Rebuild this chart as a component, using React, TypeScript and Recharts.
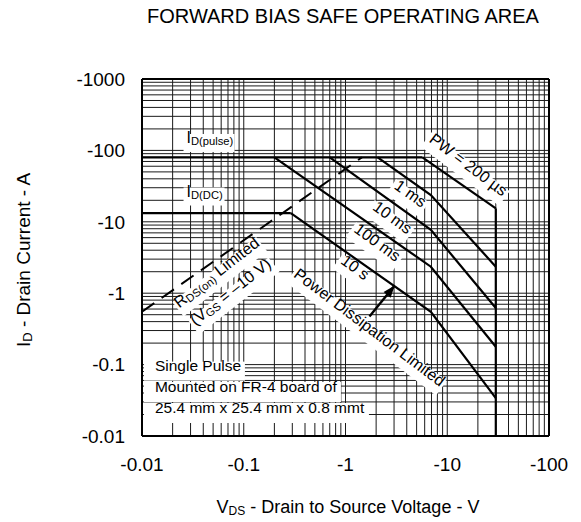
import React from 'react';
import { ComposedChart, Line, XAxis, YAxis, CartesianGrid, ReferenceLine, ReferenceDot } from 'recharts';

// ---------- data ----------
const X_DECADES = [0.01, 0.1, 1, 10];
const Y_DECADES = [0.01, 0.1, 1, 10, 100];
const MANTISSAS = [1, 2, 3, 4, 5, 6, 7, 8, 9];
const X_MAX = 100;
const Y_MAX = 1000;
const X_TICK_LABELS = ['-0.01', '-0.1', '-1', '-10', '-100'];
const Y_TICK_LABELS = ['-0.01', '-0.1', '-1', '-10', '-100', '-1000'];

// |VDS| (V) vs |ID| (A)
const idPulse = [{ v: 0.01, i: 80 }, { v: 5.7, i: 80 }];
const pw200us = [{ v: 5.7, i: 80 }, { v: 30, i: 15.4 }];
const pw1ms = [{ v: 2.07, i: 80 }, { v: 6.9, i: 23.7 }, { v: 30, i: 2.35 }];
const pw10ms = [{ v: 0.7, i: 80 }, { v: 6.9, i: 7.7 }, { v: 30, i: 0.62 }];
const pw100ms = [{ v: 0.2, i: 80 }, { v: 6.9, i: 2.35 }, { v: 30, i: 0.178 }];
const idDC = [{ v: 0.01, i: 13.2 }, { v: 0.29, i: 13.2 }];
const dc10s = [{ v: 0.29, i: 13.2 }, { v: 6.9, i: 0.55 }, { v: 30, i: 0.034 }];
const vdsLimit = [{ v: 30, i: 15.4 }, { v: 30, i: 0.01 }];
const rdsLimit = [{ v: 0.01, i: 0.55 }, { v: 1.45, i: 80 }];
const arrowLine = [{ v: 1.72, i: 0.47 }, { v: 3.0, i: 1.25 }];
const arrowHead = { v: 3.0, i: 1.25 };

// ---------- grid ticks ----------
const r6 = (n: number) => Number(n.toPrecision(6));
const X_GRID = [...X_DECADES.flatMap((d) => MANTISSAS.map((m) => r6(m * d))), X_MAX];
const Y_GRID = [...Y_DECADES.flatMap((d) => MANTISSAS.map((m) => r6(m * d))), Y_MAX];
const X_MAJOR = [...X_DECADES, X_MAX];
const Y_MAJOR = [...Y_DECADES, Y_MAX];

const FONT = '"Liberation Sans", Arial, Helvetica, sans-serif';
const W = 565;
const H = 514;
const PAD = 8;

const fmtX = (val: number) => {
  const k = X_MAJOR.findIndex((d) => Math.abs(d - val) < d * 1e-6);
  return k >= 0 ? X_TICK_LABELS[k] : '';
};
const fmtY = (val: number) => {
  const k = Y_MAJOR.findIndex((d) => Math.abs(d - val) < d * 1e-6);
  return k >= 0 ? Y_TICK_LABELS[k] : '';
};

type Part = { t: string; sub?: boolean };
type Anno = {
  v: number;
  i: number;
  parts: Part[];
  angle: number;
  anchor: 'start' | 'middle';
  w: number;
  h: number;
  fs: number;
  bx?: number;
};

const ANNOTATIONS: Anno[] = [
  { v: 0.0274, i: 127, parts: [{ t: 'I' }, { t: 'D(pulse)', sub: true }], angle: 0, anchor: 'start', w: 51, h: 18, fs: 16 },
  { v: 0.0274, i: 22.6, parts: [{ t: 'I' }, { t: 'D(DC)', sub: true }], angle: 0, anchor: 'start', w: 41, h: 18, fs: 16 },
  { v: 15.0, i: 54.8, parts: [{ t: 'PW = 200 µs' }], angle: 37, anchor: 'middle', w: 98, h: 18, fs: 16 },
  { v: 4.06, i: 21.5, parts: [{ t: '1 ms' }], angle: 35, anchor: 'middle', w: 40, h: 18, fs: 16 },
  { v: 2.7, i: 10.0, parts: [{ t: '10 ms' }], angle: 36, anchor: 'middle', w: 49, h: 18, fs: 16 },
  { v: 1.92, i: 4.48, parts: [{ t: '100 ms' }], angle: 36, anchor: 'middle', w: 58, h: 18, fs: 16 },
  { v: 1.16, i: 2.0, parts: [{ t: '10 s' }], angle: 36, anchor: 'middle', w: 36, h: 18, fs: 16 },
  { v: 1.6, i: 0.289, parts: [{ t: 'Power Dissipation Limited' }], angle: 37, anchor: 'middle', w: 188, h: 18, fs: 16 },
  { v: 0.0582, i: 1.7, parts: [{ t: 'R' }, { t: 'DS(on)', sub: true }, { t: ' Limited' }], angle: -38, anchor: 'middle', w: 106, h: 18, fs: 16 },
  { v: 0.0798, i: 0.914, parts: [{ t: '(V' }, { t: 'GS', sub: true }, { t: ' = –10 V)' }], angle: -38, anchor: 'middle', w: 102, h: 18, fs: 16 },
  { v: 0.0134, i: 0.081, parts: [{ t: 'Single Pulse' }], angle: 0, anchor: 'start', w: 101, h: 19, fs: 15.5, bx: -11 },
  { v: 0.0134, i: 0.0413, parts: [{ t: 'Mounted on FR-4 board of' }], angle: 0, anchor: 'start', w: 197, h: 20, fs: 15.5, bx: -11 },
  { v: 0.0134, i: 0.021, parts: [{ t: '25.4 mm x 25.4 mm x 0.8 mmt' }], angle: 0, anchor: 'start', w: 225, h: 20, fs: 15.5, bx: -11 },
];

function renderParts(parts: Part[], fs: number) {
  const out: React.ReactNode[] = [];
  let lowered = false;
  parts.forEach((p, k) => {
    if (p.sub) {
      out.push(
        <tspan key={k} fontSize={fs * 0.7} dy={lowered ? 0 : 2}>
          {p.t}
        </tspan>
      );
      lowered = true;
    } else {
      out.push(
        <tspan key={k} fontSize={fs} dy={lowered ? -2 : 0}>
          {p.t}
        </tspan>
      );
      lowered = false;
    }
  });
  return out;
}

function AnnoShape(props: any) {
  const { cx, cy, a } = props as { cx: number; cy: number; a: Anno };
  if (cx == null || cy == null) return null;
  const x0 = a.anchor === 'start' ? (a.bx ?? -3) : -a.w / 2;
  return (
    <g transform={`translate(${cx},${cy}) rotate(${a.angle})`}>
      <rect x={x0} y={-a.h / 2} width={a.w} height={a.h} fill="#fff" />
      <text x={0} y={0} dy={a.fs * 0.36} textAnchor={a.anchor} fontFamily={FONT} fontSize={a.fs} fill="#000">
        {renderParts(a.parts, a.fs)}
      </text>
    </g>
  );
}

function ArrowHeadShape(props: any) {
  const { cx, cy } = props;
  if (cx == null || cy == null) return null;
  return (
    <g transform={`translate(${cx},${cy}) rotate(-51)`}>
      <polygon points="1,0 -11,-4.5 -11,4.5" fill="#000" />
    </g>
  );
}

const curveStyle = { stroke: '#000', strokeWidth: 2.2, dot: false as const, isAnimationActive: false, activeDot: false as const };

export default function App() {
  return (
    <div style={{ position: 'relative', width: W, height: H }}>
      <ComposedChart width={W} height={H} margin={{ top: 71, right: 24, bottom: 26, left: 0 }}>
        <CartesianGrid stroke="#1a1a1a" strokeWidth={1} />
        <XAxis
          type="number"
          dataKey="v"
          scale="log"
          domain={[0.01, X_MAX]}
          allowDataOverflow
          ticks={X_GRID}
          interval={0}
          tickFormatter={fmtX}
          tickLine={false}
          tickSize={0}
          tickMargin={22}
          axisLine={{ stroke: '#000', strokeWidth: 2 }}
          tick={{ fill: '#000', fontSize: 19, fontFamily: FONT }}
          height={60}
        />
        <YAxis
          type="number"
          dataKey="i"
          scale="log"
          domain={[0.01, Y_MAX]}
          allowDataOverflow
          ticks={Y_GRID}
          interval={0}
          tickFormatter={fmtY}
          tickLine={false}
          tickSize={0}
          tickMargin={17}
          axisLine={{ stroke: '#000', strokeWidth: 2 }}
          tick={{ fill: '#000', fontSize: 19, fontFamily: FONT }}
          width={134}
        />
        <ReferenceLine y={Y_MAX} stroke="#000" strokeWidth={2} />
        <ReferenceLine x={X_MAX} stroke="#000" strokeWidth={2} />

        {ANNOTATIONS.map((a, k) => (
          <ReferenceDot key={k} x={a.v} y={a.i} r={1} shape={(p: any) => <AnnoShape {...p} a={a} />} />
        ))}

        <Line data={idPulse} dataKey="i" {...curveStyle} />
        <Line data={pw200us} dataKey="i" {...curveStyle} />
        <Line data={pw1ms} dataKey="i" {...curveStyle} />
        <Line data={pw10ms} dataKey="i" {...curveStyle} />
        <Line data={pw100ms} dataKey="i" {...curveStyle} />
        <Line data={idDC} dataKey="i" {...curveStyle} />
        <Line data={dc10s} dataKey="i" {...curveStyle} />
        <Line data={vdsLimit} dataKey="i" {...curveStyle} />
        <Line data={rdsLimit} dataKey="i" {...curveStyle} strokeWidth={2} strokeDasharray="15 9" />
        <Line data={arrowLine} dataKey="i" {...curveStyle} strokeWidth={2.4} />
        <ReferenceDot x={arrowHead.v} y={arrowHead.i} r={1} shape={(p: any) => <ArrowHeadShape {...p} />} />
      </ComposedChart>
      <svg
        width={W + PAD}
        height={H + PAD}
        style={{ position: 'absolute', left: 0, top: -PAD, pointerEvents: 'none', overflow: 'visible' }}
        fontFamily={FONT}
      >
        <text x={335} y={15 + PAD} textAnchor="middle" fontSize={20} fill="#000">
          FORWARD BIAS SAFE OPERATING AREA
        </text>
        <text transform={`translate(15,${252 + PAD}) rotate(-90)`} textAnchor="middle" dy={19 * 0.36} fontSize={19} fill="#000">
          <tspan>I</tspan>
          <tspan fontSize={13} dy={2}>D</tspan>
          <tspan dy={-2}> - Drain Current - A</tspan>
        </text>
        <text x={340} y={499 + PAD} dy={18 * 0.36} textAnchor="middle" fontSize={18} fill="#000">
          <tspan>V</tspan>
          <tspan fontSize={12} dy={2}>DS</tspan>
          <tspan dy={-2}> - Drain to Source Voltage - V</tspan>
        </text>
      </svg>
    </div>
  );
}
